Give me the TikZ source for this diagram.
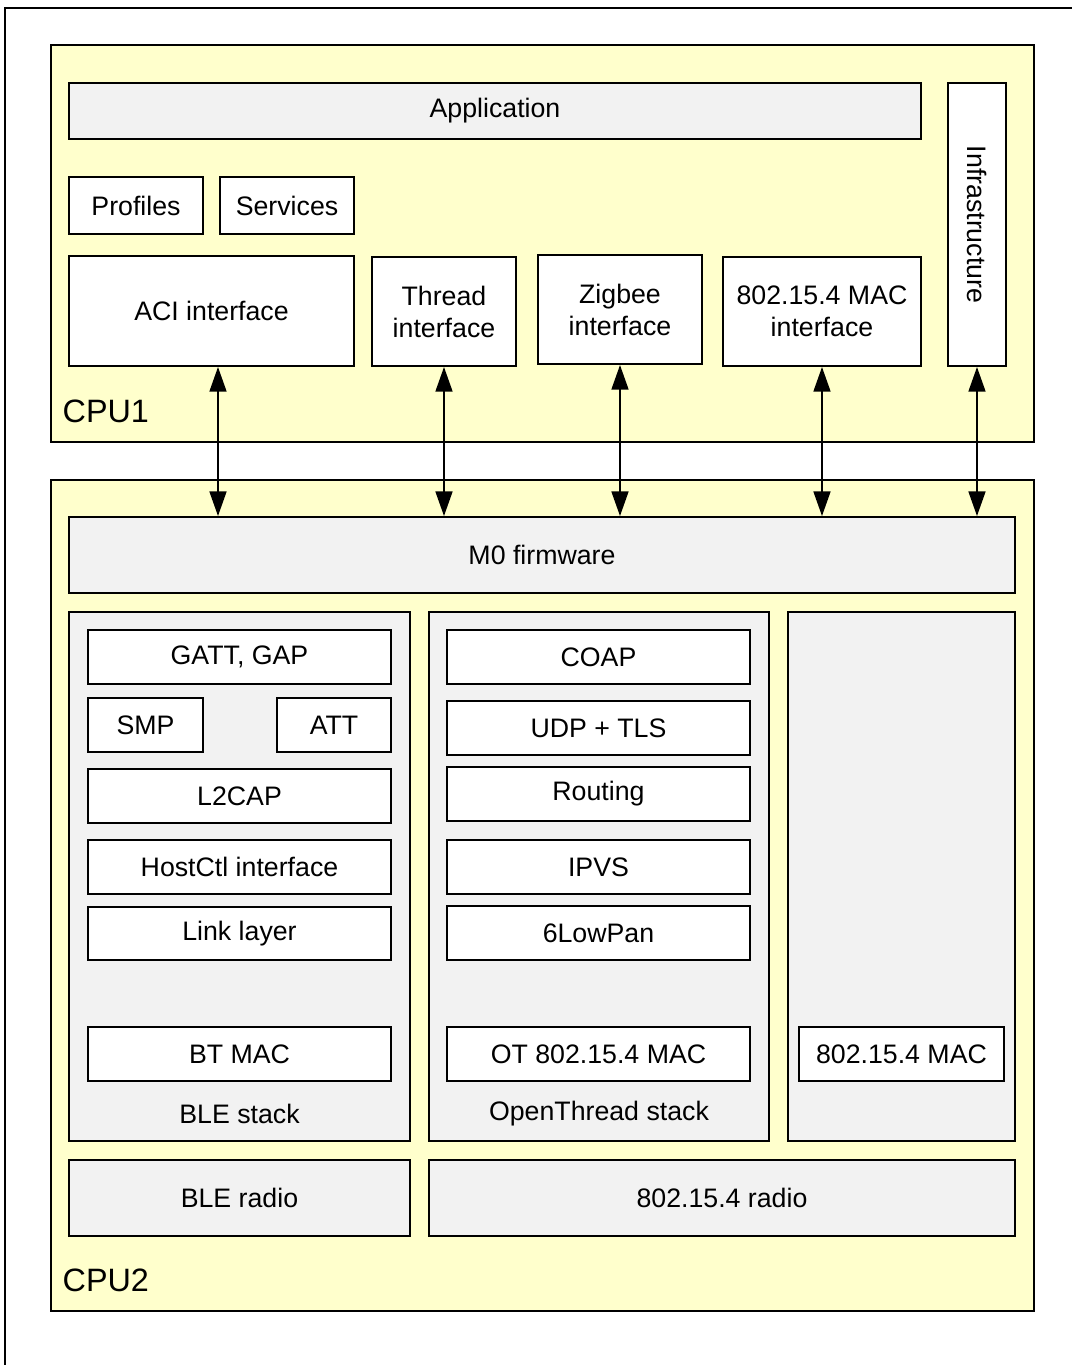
\documentclass[tikz,border=0pt]{standalone}
\usepackage{fontspec}
\setmainfont{Liberation Sans}
\usetikzlibrary{fit,arrows.meta}
\definecolor{cpuyellow}{HTML}{FFFFCC}
\definecolor{layergray}{HTML}{F2F2F2}

\begin{document}
\begin{tikzpicture}[x=0.01cm,y=-0.01cm,
  every node/.style={font=\fontsize{7.6}{9.1}\selectfont},
  cpu/.style={draw, line width=0.6pt, fill=cpuyellow, inner sep=0pt},
  layer/.style={draw, line width=0.55pt, fill=layergray, inner sep=0pt},
  blk/.style={draw, line width=0.55pt, fill=white, inner sep=0pt},
  txt/.style={label={[align=center]center:#1}},
  io/.style={{Triangle[length=7pt,width=4.8pt]}-{Triangle[length=7pt,width=4.8pt]}, line width=0.55pt},
  cpulabel/.style={anchor=west, inner sep=0pt, font=\fontsize{9.2}{11}\selectfont}]
\useasboundingbox (0,0) rectangle (1072,1365);
\draw[line width=0.7pt] (5,1400) -- (5,8) -- (1100,8);

% CPU1
\node[cpu, fit={(51,45) (1034,442)}] (cpu1) {};
\node[cpulabel] (cpu1l) at (62,411) {CPU1};
\node[layer, fit={(69,83) (921,139)}, txt=Application] (app) {};
\node[blk, fit={(69,177) (203,234)}, txt=Profiles] (prof) {};
\node[blk, fit={(220,177) (354,234)}, txt=Services] (serv) {};
\node[blk, fit={(69,256) (354,366)}, txt=ACI interface] (aci) {};
\node[blk, fit={(372,257) (516,366)}, txt=Thread\\interface] (thr) {};
\node[blk, fit={(538,255) (702,364)}, txt=Zigbee\\interface] (zig) {};
\node[blk, fit={(723,257) (921,366)}, txt=802.15.4 MAC\\interface] (mac) {};
\node[blk, fit={(948,83) (1006,366)}, label={[rotate=-90]center:Infrastructure}] (infra) {};

% CPU2
\node[cpu, fit={(51,480) (1034,1311)}] (cpu2) {};
\node[cpulabel] (cpu2l) at (62,1280) {CPU2};
\node[layer, fit={(69,517) (1015,593)}, txt=M0 firmware] (m0) {};

\node[layer, fit={(69,612) (410,1141)}] (ble) {};
\node (blel) at (239.5,1114) {BLE stack};
\node[blk, fit={(88,630) (391,684)}, txt={GATT, GAP}] (gatt) {};
\node[blk, fit={(88,698) (203,752)}, txt=SMP] (smp) {};
\node[blk, fit={(277,698) (391,752)}, txt=ATT] (att) {};
\node[blk, fit={(88,769) (391,823)}, txt=L2CAP] (l2cap) {};
\node[blk, fit={(88,840) (391,894)}, txt=HostCtl interface] (hci) {};
\node[blk, fit={(88,907) (391,960)}, txt=Link layer] (ll) {};
\node[blk, fit={(88,1027) (391,1081)}, txt=BT MAC] (btmac) {};

\node[layer, fit={(429,612) (769,1141)}] (ot) {};
\node (otl) at (599,1114) {OpenThread stack};
\node[blk, fit={(447,630) (750,684)}, txt=COAP] (coap) {};
\node[blk, fit={(447,701) (750,755)}, txt=UDP + TLS] (udp) {};
\node[blk, fit={(447,767) (750,821)}, txt=Routing] (rout) {};
\node[blk, fit={(447,840) (750,894)}, txt=IPVS] (ipv) {};
\node[blk, fit={(447,906) (750,960)}, txt=6LowPan] (lowpan) {};
\node[blk, fit={(447,1027) (750,1081)}, txt=OT 802.15.4 MAC] (otmac) {};

\node[layer, fit={(788,612) (1015,1141)}] (rmac) {};
\node[blk, fit={(799,1027) (1004,1081)}, txt=802.15.4 MAC] (pmac) {};

\node[layer, fit={(69,1160) (410,1236)}, txt=BLE radio] (bler) {};
\node[layer, fit={(429,1160) (1015,1236)}, txt=802.15.4 radio] (radio) {};

% links CPU1 <-> CPU2
\draw[io] ([xshift=0.065cm]aci.south) -- ([xshift=0.065cm]aci.south |- m0.north);
\foreach \n in {thr,zig,mac,infra}
  \draw[io] (\n.south) -- (\n.south |- m0.north);
\end{tikzpicture}
\end{document}
